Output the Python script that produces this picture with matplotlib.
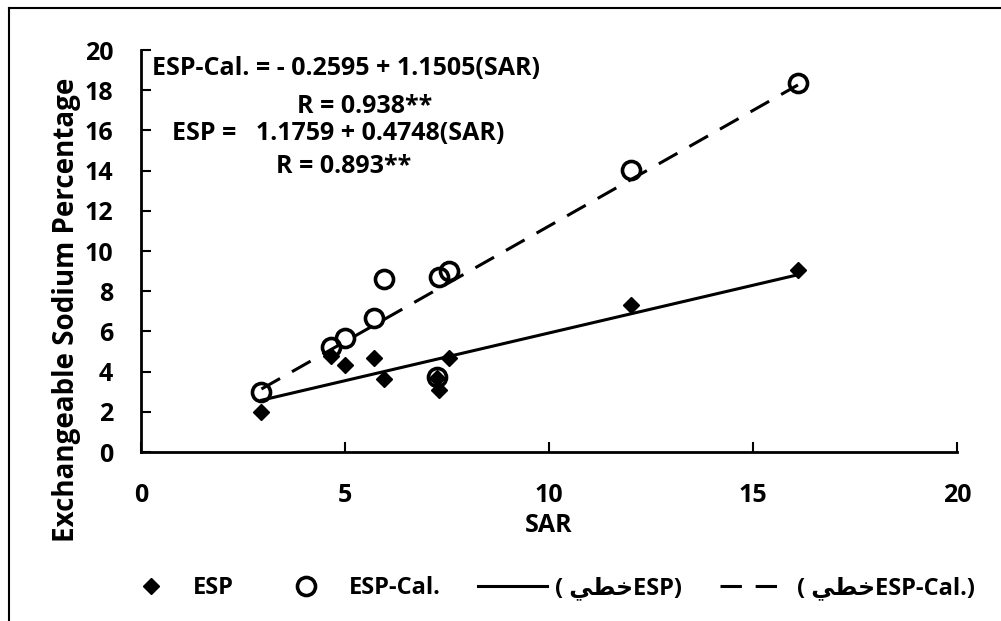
import matplotlib
matplotlib.use("Agg")
import matplotlib.pyplot as plt
from matplotlib.lines import Line2D
import numpy as np

# data
sar = [2.95, 4.65, 5.0, 5.7, 5.95, 7.25, 7.3, 7.55, 12.0, 16.1]
esp = [2.0, 4.8, 4.35, 4.7, 3.65, 3.7, 3.1, 4.7, 7.3, 9.05]
esp_cal = [3.0, 5.25, 5.65, 6.65, 8.6, 3.75, 8.7, 9.0, 14.05, 18.35]

# regression coefficients printed on the chart
esp_fit = (1.1759, 0.4748)
esp_cal_fit = (-0.2595, 1.1505)

x_ticks = [0, 5, 10, 15, 20]
y_ticks = [0, 2, 4, 6, 8, 10, 12, 14, 16, 18, 20]

# "خطي" in joined presentation forms, laid out left-to-right
khatti = "\uFEF2\uFEC4\uFEA7"

FONT = ["Open Sans", "DejaVu Sans"]
plt.rcParams["font.family"] = FONT
plt.rcParams["font.weight"] = "bold"

fig = plt.figure(figsize=(10.01, 6.21), dpi=100)
ax = fig.add_axes([0.1409, 0.2721, 0.8152, 0.6473])

# outer frame (top and left only, as in the reference)
fig.add_artist(Line2D([9 / 1001, 1], [1 - 8 / 621, 1 - 8 / 621], color="black", lw=1.5))
fig.add_artist(Line2D([9 / 1001, 9 / 1001], [0, 1 - 8 / 621], color="black", lw=1.5))

dash = (0, (7, 4.5))

ax.plot(sar, esp, linestyle="none", marker="D", markersize=8, color="black")
ax.plot(sar, esp_cal, linestyle="none", marker="o", markersize=13,
        markerfacecolor="none", markeredgecolor="black", markeredgewidth=2.6)

xs = np.array([min(sar), max(sar)])
ax.plot(xs, esp_fit[0] + esp_fit[1] * xs, color="black", lw=2.2)
ax.plot(xs, esp_cal_fit[0] + esp_cal_fit[1] * xs, color="black", lw=2.2, linestyle=dash)

ax.set_xlim(0, 20)
ax.set_ylim(0, 20)
ax.set_xticks(x_ticks)
ax.set_yticks(y_ticks)
ax.spines["top"].set_visible(False)
ax.spines["right"].set_visible(False)
for s in ("left", "bottom"):
    ax.spines[s].set_linewidth(2)
ax.tick_params(axis="both", direction="in", length=7, width=1.5, labelsize=18)
ax.tick_params(axis="x", pad=22)
ax.tick_params(axis="y", pad=20)
for lab in ax.get_xticklabels() + ax.get_yticklabels():
    lab.set_fontweight("bold")

ax.set_xlabel("SAR", fontsize=18, fontweight="bold", labelpad=4)
ax.set_ylabel("Exchangeable Sodium Percentage", fontsize=20, fontweight="bold")
ax.yaxis.set_label_coords(-0.073, 0.353)

txt = dict(fontsize=18, fontweight="bold", va="center", clip_on=False)
ax.text(0.27, 19.06, "ESP-Cal. = - 0.2595 + 1.1505(SAR)", ha="left", **txt)
ax.text(3.82, 17.2, "R = 0.938**", ha="left", **txt)
ax.text(0.76, 15.83, "ESP =   1.1759 + 0.4748(SAR)", ha="left", **txt)
ax.text(3.31, 14.2, "R = 0.893**", ha="left", **txt)

handles = [
    Line2D([], [], linestyle="none", marker="D", markersize=8, color="black"),
    Line2D([], [], linestyle="none", marker="o", markersize=13, markerfacecolor="none",
           markeredgecolor="black", markeredgewidth=2.6),
    Line2D([], [], color="black", lw=2.2),
    Line2D([], [], color="black", lw=2.2, linestyle=dash),
]
labels = ["ESP", "ESP-Cal.", "( " + khatti + "ESP)", "( " + khatti + "ESP-Cal.)"]
fig.legend(handles, labels, loc="center", bbox_to_anchor=(0.545, 1 - 588 / 621), ncol=4,
           frameon=False, prop={"family": FONT, "weight": "bold", "size": 17},
           handlelength=2.9, columnspacing=1.6, handletextpad=0.35)

fig.savefig("out.png", dpi=100)
